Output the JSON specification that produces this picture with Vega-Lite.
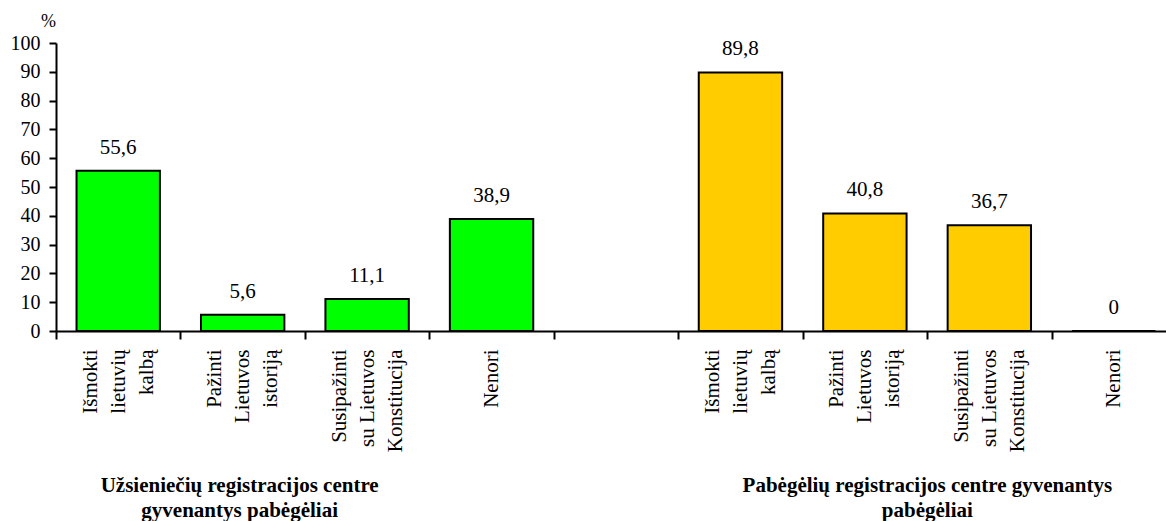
{
  "$schema": "https://vega.github.io/schema/vega-lite/v6.json",
  "width": 1120,
  "height": 288,
  "autosize": {"type": "none"},
  "padding": {"left": 56, "top": 43, "right": 0, "bottom": 190},
  "background": "white",
  "config": {
    "view": {"stroke": null},
    "font": "Liberation Serif",
    "locale": {"number": {"decimal": ",", "thousands": " ", "grouping": [3], "currency": ["", " €"]}}
  },
  "datasets": {
    "bars": [
      {"cat": "a1|Išmokti|lietuvių|kalbą", "group": "A", "value": 55.6},
      {"cat": "a2|Pažinti|Lietuvos|istoriją", "group": "A", "value": 5.6},
      {"cat": "a3|Susipažinti|su Lietuvos|Konstitucija", "group": "A", "value": 11.1},
      {"cat": "a4|Nenori", "group": "A", "value": 38.9},
      {"cat": "b1|Išmokti|lietuvių|kalbą", "group": "B", "value": 89.8},
      {"cat": "b2|Pažinti|Lietuvos|istoriją", "group": "B", "value": 40.8},
      {"cat": "b3|Susipažinti|su Lietuvos|Konstitucija", "group": "B", "value": 36.7},
      {"cat": "b4|Nenori", "group": "B", "value": 0}
    ],
    "groupsA": [
      {"cat": "a2|Pažinti|Lietuvos|istoriją", "title": ["Užsieniečių registracijos centre", "gyvenantys pabėgėliai"]}
    ],
    "groupsB": [
      {"cat": "b3|Susipažinti|su Lietuvos|Konstitucija", "title": ["Pabėgėlių registracijos centre gyvenantys", "pabėgėliai"]}
    ]
  },
  "encoding": {
    "x": {
      "field": "cat", "type": "nominal", "sort": null,
      "scale": {"domain": ["a1|Išmokti|lietuvių|kalbą", "a2|Pažinti|Lietuvos|istoriją", "a3|Susipažinti|su Lietuvos|Konstitucija", "a4|Nenori", "gap", "b1|Išmokti|lietuvių|kalbą", "b2|Pažinti|Lietuvos|istoriją", "b3|Susipažinti|su Lietuvos|Konstitucija", "b4|Nenori"], "paddingInner": 0, "paddingOuter": 0},
      "axis": {
        "title": null,
        "labelExpr": "slice(split(datum.value, '|'), 1)",
        "labelAngle": -90,
        "labelFontSize": 21,
        "labelLineHeight": 28,
        "labelPadding": 10,
        "labelOffset": {"expr": "-14 * (length(split(datum.value, '|')) - 2)"},
        "labelColor": "black",
        "labelLimit": 0,
        "labelOverlap": false,
        "labelBound": false,
        "tickBand": "extent",
        "tickSize": 8,
        "tickWidth": 2,
        "tickColor": "black",
        "domainColor": "black",
        "domainWidth": 2
      }
    },
    "y": {
      "field": "value", "type": "quantitative",
      "scale": {"domain": [0, 100], "nice": false},
      "axis": {
        "values": [0, 10, 20, 30, 40, 50, 60, 70, 80, 90, 100],
        "grid": false,
        "labelFontSize": 20,
        "labelColor": "black",
        "labelPadding": 9,
        "labelOverlap": false,
        "labelBound": false,
        "labelFlush": false,
        "tickSize": 7,
        "tickWidth": 2,
        "tickColor": "black",
        "domainColor": "black",
        "domainWidth": 2,
        "title": "%",
        "titleAngle": 0,
        "titleX": -8,
        "titleY": -22,
        "titleAlign": "center",
        "titleBaseline": "middle",
        "titleFontSize": 18,
        "titleFontWeight": "normal",
        "titleColor": "black"
      }
    }
  },
  "layer": [
    {
      "data": {"name": "bars"},
      "mark": {"type": "bar", "stroke": "black", "strokeWidth": 2, "width": {"band": 0.67}},
      "encoding": {
        "color": {
          "field": "group", "type": "nominal",
          "scale": {"domain": ["A", "B"], "range": ["#00ff00", "#ffcc00"]},
          "legend": null
        }
      }
    },
    {
      "data": {"name": "bars"},
      "mark": {"type": "text", "dy": -17, "baseline": "alphabetic", "align": "center", "fontSize": 21, "color": "black"},
      "encoding": {
        "text": {"field": "value", "type": "quantitative", "format": ".1~f"}
      }
    },
    {
      "data": {"name": "groupsA"},
      "mark": {"type": "text", "dy": 161, "dx": -3, "baseline": "alphabetic", "align": "center", "fontSize": 21, "fontWeight": "bold", "lineHeight": 25, "color": "black"},
      "encoding": {
        "y": {"value": "height"},
        "text": {"field": "title"}
      }
    },
    {
      "data": {"name": "groupsB"},
      "mark": {"type": "text", "dy": 161, "dx": -62, "baseline": "alphabetic", "align": "center", "fontSize": 21, "fontWeight": "bold", "lineHeight": 25, "color": "black"},
      "encoding": {
        "y": {"value": "height"},
        "text": {"field": "title"}
      }
    }
  ]
}
